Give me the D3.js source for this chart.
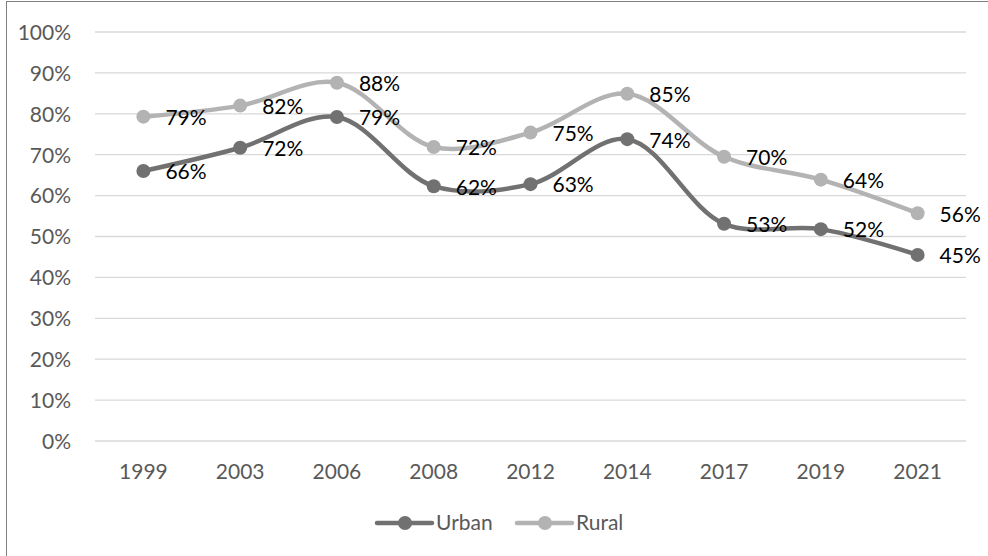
<!DOCTYPE html>
<html><head><meta charset="utf-8">
<script src="https://cdn.jsdelivr.net/npm/d3@7"></script>
<style>body{margin:0;background:#fff}svg{display:block}</style>
</head><body>
<svg id="c" width="988" height="556"></svg>
<script>
const years = ["1999","2003","2006","2008","2012","2014","2017","2019","2021"];
const urban = [66, 72, 79, 62, 63, 74, 53, 52, 45];
const rural = [79, 82, 88, 72, 75, 85, 70, 64, 56];
const urbanPlot = [66.0, 71.7, 79.2, 62.3, 62.8, 73.8, 53.1, 51.8, 45.5];
const ruralPlot = [79.3, 82.0, 87.6, 71.9, 75.4, 84.9, 69.5, 63.9, 55.7];
const yTicks = [0,10,20,30,40,50,60,70,80,90,100];
const seriesNames = ["Urban","Rural"];
const colors = ["#717171","#b3b3b3"];

const svg = d3.select("#c");
const font = "Lato, 'Open Sans', sans-serif";
const fs = 21;
svg.append("rect").attr("x",6.5).attr("y",1.5).attr("width",1000).attr("height",600)
  .attr("fill","#fff").attr("stroke","#7f7f7f").attr("stroke-width",1);

const x = d3.scaleBand().domain(years).range([95,966]);
const y = d3.scaleLinear().domain([0,100]).range([441,32]);

// gridlines
svg.append("g").selectAll("line").data(yTicks).join("line")
  .attr("x1",95).attr("x2",966).attr("y1",d=>y(d)).attr("y2",d=>y(d))
  .attr("stroke","#d9d9d9").attr("stroke-width",1.3);

// y axis
const ya = svg.append("g").attr("transform","translate(71,0)")
  .call(d3.axisLeft(y).tickValues(yTicks).tickFormat(d=>d+"%").tickSize(0).tickPadding(0));
ya.select(".domain").remove();
ya.selectAll("text").attr("font-family",font).attr("font-size",fs).attr("fill","#595959").attr("dy","0.35em");

// x axis
const xa = svg.append("g").attr("transform","translate(0,441)")
  .call(d3.axisBottom(x).tickSize(0).tickPadding(0));
xa.select(".domain").remove();
xa.selectAll("text").attr("font-family",font).attr("font-size",fs).attr("fill","#595959").attr("dy","0").attr("y",38);

const cx = d => x(d) + x.bandwidth()/2;
const line = d3.line().x((d,i)=>cx(years[i])).y(d=>y(d)).curve(d3.curveCatmullRom.alpha(0.5));

const plots = [urbanPlot, ruralPlot];
const labels = [urban, rural];
[0,1].forEach(s=>{
  const g = svg.append("g");
  g.append("path").datum(plots[s]).attr("d",line).attr("fill","none")
    .attr("stroke",colors[s]).attr("stroke-width",4.5).attr("stroke-linecap","round");
  g.selectAll("circle").data(plots[s]).join("circle")
    .attr("cx",(d,i)=>cx(years[i])).attr("cy",d=>y(d)).attr("r",7).attr("fill",colors[s]);
});
[0,1].forEach(s=>{
  svg.append("g").selectAll("text").data(plots[s]).join("text")
    .attr("x",(d,i)=>cx(years[i])+22).attr("y",d=>y(d)+1).attr("dy","0.35em")
    .attr("font-family",font).attr("font-size",fs).attr("fill","#000")
    .text((d,i)=>labels[s][i]+"%");
});

// legend
const lx = [377, 517];
const lg = svg.append("g");
[0,1].forEach(s=>{
  lg.append("line").attr("x1",lx[s]).attr("x2",lx[s]+55).attr("y1",523).attr("y2",523)
    .attr("stroke",colors[s]).attr("stroke-width",4.5).attr("stroke-linecap","round");
  lg.append("circle").attr("cx",lx[s]+28).attr("cy",523).attr("r",7).attr("fill",colors[s]);
  lg.append("text").attr("x",lx[s]+59).attr("y",523).attr("dy","0.35em")
    .attr("font-family",font).attr("font-size",fs).attr("fill","#595959").text(seriesNames[s]);
});
</script>
</body></html>
